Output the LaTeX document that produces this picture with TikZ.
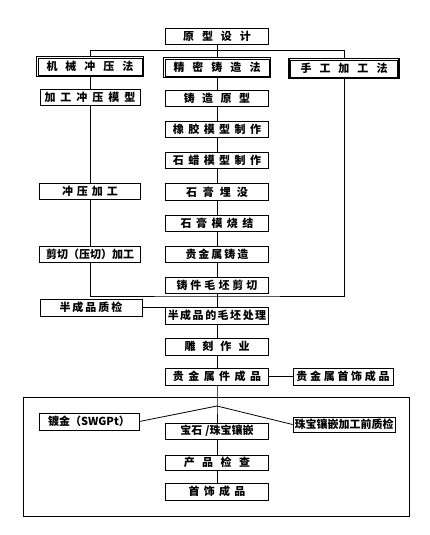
\documentclass[tikz,border=0pt]{standalone}
\usepackage{fontspec}
\setmainfont{Noto Sans CJK SC}
\usetikzlibrary{shadows}
\newcommand\gp[1]{\hspace{#1pt}}
\begin{document}
\begin{tikzpicture}[x=1pt,y=-1pt,
  every node/.style={font=\fontsize{11}{12}\selectfont\bfseries, inner sep=0pt},
  box/.style={draw, line width=0.8pt, fill=white, minimum width=103pt, minimum height=16pt,
    drop shadow={shadow xshift=0.7pt, shadow yshift=-0.7pt, opacity=1, fill=black}},
  method/.style={draw, line width=1.2pt, fill=white, minimum width=#1, minimum height=20pt},
  inner/.style={line width=0.6pt},
  frame/.style={draw, line width=0.6pt, minimum width=386pt, minimum height=119pt},
  ln/.style={line width=0.8pt}]
\useasboundingbox (0,0) rectangle (429,535);

\node[frame] (fr) at (216,456.5) {};

\node[box] (top) at (217,36) {原\gp8型\gp8设\gp8计};
\node[method=107pt] (jx) at (90,66.5) {机\gp8械\gp8冲\gp8压\gp8法};
\node[method=107pt] (jm) at (217,67.5) {精\gp8密\gp8铸\gp8造\gp8法};
\node[method=110pt] (sg) at (344,68.5) {手\gp8工\gp8加\gp8工\gp8法};
\foreach \n in {jx,jm,sg}
  \draw[inner] ([shift={(2.2pt,-2.2pt)}]\n.north west) rectangle ([shift={(-2.2pt,2.2pt)}]\n.south east);

\node[box, minimum width=100pt] (l1) at (90,97) {加\gp5工\gp5冲\gp5压\gp5模\gp5型};
\node[box, minimum width=101pt] (l2) at (90,191) {冲\gp4压\gp4加\gp4工};
\node[box, minimum width=101pt] (l3) at (90,254) {剪切（压切）加工};
\node[box, minimum width=102pt, minimum height=17pt] (l4) at (91,307.5) {半\gp2成\gp2品\gp2质\gp2检};
\node[box, minimum width=100pt, minimum height=17pt] (l5) at (89,421.5) {镀金（SWGPt）};

\node[box] (c1) at (217,98) {铸\gp{7.5}造\gp{7.5}原\gp{7.5}型};
\node[box] (c2) at (217,129) {橡\gp{4.5}胶\gp{4.5}模\gp{4.5}型\gp{4.5}制\gp{4.5}作};
\node[box] (c3) at (217,160) {石\gp{4.5}蜡\gp{4.5}模\gp{4.5}型\gp{4.5}制\gp{4.5}作};
\node[box, minimum height=17pt] (c4) at (217,192) {石\gp6膏\gp6埋\gp6没};
\node[box] (c5) at (217,223) {石\gp{4.5}膏\gp{4.5}模\gp{4.5}烧\gp{4.5}结};
\node[box] (c6) at (217,254) {贵\gp2金\gp2属\gp2铸\gp2造};
\node[box] (c7) at (217,285) {铸\gp3件\gp3毛\gp3坯\gp3剪\gp3切};
\node[box, minimum height=17pt] (c8) at (217,315.5) {半\gp{1.5}成\gp{1.5}品\gp{1.5}的\gp{1.5}毛\gp{1.5}坯\gp{1.5}处\gp{1.5}理};
\node[box, minimum height=17pt] (c9) at (217,346.5) {雕\gp7刻\gp7作\gp7业};
\node[box, minimum height=17pt] (c10) at (217,376.5) {贵\gp{4.5}金\gp{4.5}属\gp{4.5}件\gp{4.5}成\gp{4.5}品};
\node[box] (c11) at (217,431) {宝石\gp3/珠宝镶嵌};
\node[box, minimum height=15pt] (c12) at (217,462.5) {产\gp{7.5}品\gp{7.5}检\gp{7.5}查};
\node[box, minimum height=17pt] (c13) at (217,491.5) {首\gp{4.3}饰\gp{4.3}成\gp{4.3}品};

\node[box, minimum width=100pt, minimum height=17pt] (r1) at (343,376.5) {贵\gp{2.7}金\gp{2.7}属\gp{2.7}首\gp{2.7}饰\gp{2.7}成\gp{2.7}品};
\node[box, minimum width=102pt, minimum height=15pt] (r2) at (344,424.5) {珠宝镶嵌加工前质检};

\coordinate (b1) at (217,50);
\coordinate (b2) at (217,296);
\coordinate (b3) at (217,307.5);
\coordinate (b4) at (217,406);

\draw[ln] (top.south) -- (jm.north);
\draw[ln] (jx.north |- b1) -- (sg.north |- b1);
\draw[ln] (jx.north |- b1) -- (jx.north);
\draw[ln] (sg.north |- b1) -- (sg.north);

\draw[ln] (jx.south) -- (l1.north);
\draw[ln] (l1.south) -- (l2.north);
\draw[ln] (l2.south) -- (l3.north);
\draw[ln] (l3.south) |- (b2) -| (sg.south);

\draw[ln] (jm.south) -- (c1.north);
\draw[ln] (c1.south) -- (c2.north);
\draw[ln] (c2.south) -- (c3.north);
\draw[ln] (c3.south) -- (c4.north);
\draw[ln] (c4.south) -- (c5.north);
\draw[ln] (c5.south) -- (c6.north);
\draw[ln] (c6.south) -- (c7.north);
\draw[ln] (c7.south) -- (c8.north);
\draw[ln] (l4.east) -- (b3);
\draw[ln] (c8.south) -- (c9.north);
\draw[ln] (c9.south) -- (c10.north);
\draw[ln] (c10.east) -- (r1.west);
\draw[ln] (c10.south) -- (b4) -- (c11.north);
\draw[ln] (b4) -- (l5.east);
\draw[ln] (b4) -- (r2.west);
\draw[ln] (c11.south) -- (c12.north);
\draw[ln] (c12.south) -- (c13.north);
\end{tikzpicture}
\end{document}
